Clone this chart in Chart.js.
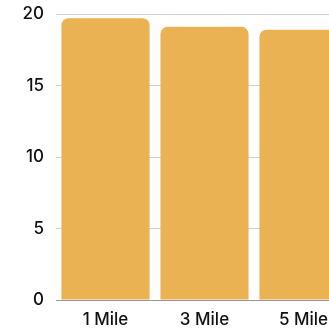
<!DOCTYPE html>
<html>
<head>
<meta charset="utf-8">
<script src="https://cdn.jsdelivr.net/npm/chart.js@4.4.1/dist/chart.umd.min.js"></script>
<style>
  html, body { margin: 0; padding: 0; background: #fff; overflow: hidden; }
  #wrap { width: 353px; height: 331px; position: relative; }
</style>
</head>
<body>
<div id="wrap"><canvas id="canvas"></canvas></div>
<script>
const categories = ["1 Mile", "3 Mile", "5 Mile"];
const values = [19.7, 19.1, 18.9];
const yTicks = [0, 5, 10, 15, 20];

const barColor = "#EBB254";

chart = new Chart(document.getElementById("canvas").getContext("2d"), {
  type: 'bar',
  data: {
    labels: categories,
    datasets: [{
      data: values,
      backgroundColor: barColor,
      borderRadius: { topLeft: 7, topRight: 7, bottomLeft: 0, bottomRight: 0 },
      borderSkipped: false,
      barPercentage: 0.89,
      categoryPercentage: 1
    }]
  },
  options: {
    responsive: true,
    maintainAspectRatio: false,
    animation: false,
    layout: {
      padding: { top: 14, bottom: 0, left: 0, right: 0 }
    },
    plugins: {
      legend: { display: false },
      tooltip: { enabled: false }
    },
    scales: {
      x: {
        afterFit: (scale) => { scale.height = 31; },
        grid: { display: false },
        border: { display: true, color: "#999999", width: 1 },
        ticks: {
          color: "#111",
          padding: 2,
          font: { family: "Inter", size: 17, weight: 500 }
        }
      },
      y: {
        min: 0,
        max: 20,
        afterFit: (scale) => { scale.width = 56; scale.paddingTop = 0; },
        afterBuildTicks: (scale) => { scale.ticks = yTicks.map((v) => ({ value: v })); },
        grid: { color: "#d0d0d0", drawTicks: false },
        border: { display: false },
        ticks: {
          color: "#111",
          padding: 12,
          font: { family: "Inter", size: 17, weight: 500 }
        }
      }
    }
  }
});
</script>
</body>
</html>
